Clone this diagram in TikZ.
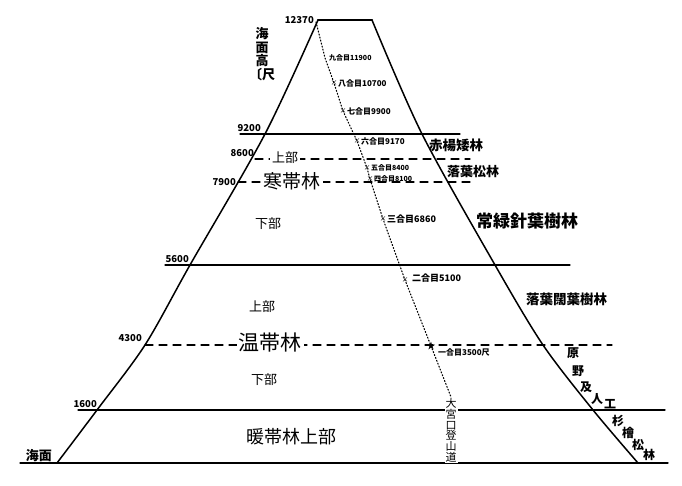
\documentclass[tikz,border=0pt]{standalone}
\usepackage{fontspec}
\setmainfont{Noto Sans CJK JP}
\usetikzlibrary{positioning}

\begin{document}
\begin{tikzpicture}[x=1pt, y=-1pt, line cap=round]
  \useasboundingbox (0,0) rectangle (682,486);
  \tikzset{
    slope/.style={line width=1.5pt},
    zoneline/.style={line width=1.3pt},
    subline/.style={line width=1.1pt, dash pattern=on 8pt off 6pt},
    alt/.style={font=\fontsize{9.5}{9.5}\selectfont\bfseries, anchor=south east, inner sep=1pt},
    zonename/.style={font=\fontsize{19}{19}\selectfont, fill=white, inner sep=2pt},
    partname/.style={font=\fontsize{13}{13}\selectfont, fill=white, inner sep=2pt},
    forest/.style={font=\fontsize{13.5}{13.5}\selectfont\bfseries, anchor=west, inner sep=1pt},
    station/.style={font=\fontsize{8}{8}\selectfont\bfseries, anchor=west, inner sep=1pt},
    stmark/.style={font=\fontsize{7}{7}\selectfont, inner sep=0pt},
  }

  % Ladera del monte
  \draw[slope] plot[smooth] coordinates {(57,463) (97,410) (145,345) (190,265) (265,134) (318,20)};
  \draw[slope] plot[smooth] coordinates {(372,20) (422,134) (495,265) (543,345) (593,410) (638,463)};
  \draw[line width=2.4pt] (318,20) -- (372,20);

  % Cotas (l\'ineas horizontales)
  \draw[zoneline] (240,134) -- (460,134);
  \draw[subline]  (255,159) -- (470,159);
  \draw[subline]  (238,182) -- (470,182);
  \draw[zoneline] (165,265) -- (570,265);
  \draw[subline]  (145,345) -- (612,345);
  \draw[zoneline] (78,410)  -- (665,410);
  \draw[zoneline] (20,463)  -- (668,463);

  % Alturas
  \node[alt] (h12370) at (315,25) {12370};
  \node[alt] (h9200)  at (262,133) {9200};
  \node[alt] (h8600)  at (255,158) {8600};
  \node[alt, anchor=east] (h7900) at (237,182) {7900};
  \node[alt] (h5600)  at (190,264) {5600};
  \node[alt] (h4300)  at (143,343) {4300};
  \node[alt] (h1600)  at (98,409)  {1600};
  \node[alt, font=\fontsize{13}{13}\selectfont\bfseries] (hsea) at (53,463) {海面};
  \node[font=\fontsize{13}{13.5}\selectfont\bfseries, align=center, inner sep=0pt] (yaxis) at (262,54)
    {海\\面\\高\\〔尺};

  % Zonas
  \node[partname] (cold_up)  at (285,158) {上部};
  \node[zonename] (cold)     at (292,181) {寒帯林};
  \node[partname] (cold_lo)  at (268,224) {下部};
  \node[partname] (temp_up)  at (262,307) {上部};
  \node[zonename, font=\fontsize{21}{21}\selectfont] (temp) at (270,343) {温帯林};
  \node[partname] (temp_lo)  at (264,380) {下部};
  \node[font=\fontsize{18}{18}\selectfont] (warm) at (291,437) {暖帯林上部};

  % Tipos de bosque
  \node[forest] (alder)   at (428,145) {赤楊矮林};
  \node[forest, font=\fontsize{13}{13}\selectfont\bfseries] (larch) at (446,172) {落葉松林};
  \node[forest, font=\fontsize{17}{17}\selectfont\bfseries] (conifer) at (475,221) {常緑針葉樹林};
  \node[forest] (broad)   at (525,299) {落葉闊葉樹林};
  \foreach \c/\x/\y in {原/573/353, 野/578/371, 及/586/387, 人/597/399, 工/610/404,
                        杉/618/421, 檜/628/433, 松/638/445, 林/649/455}{
    \node[font=\fontsize{12}{12}\selectfont\bfseries, inner sep=0pt] at (\x,\y) {\c};
  }

  % Sendero de Omiya
  \coordinate (top) at (316,22);
  \foreach \n/\x/\y in {s9/325/58, s8/334/83, s7/343/111, s6/357/141, s5/367/168,
                        s4/370/179, s3/383/219, s2/405/280, s1/431/346}{
    \coordinate (\n) at (\x,\y);
  }
  \coordinate (foot) at (451,397);
  \draw[dotted, line width=1.1pt] (top) -- (s9) -- (s8) -- (s7) -- (s6) -- (s5) -- (s4)
    -- (s3) -- (s2) -- (s1) -- (foot);
  \foreach \n in {s8,s7,s6,s5,s4,s3,s2}{
    \node[stmark] at (\n) {×};
  }
  \node[stmark, font=\fontsize{9}{9}\selectfont] at (s1) {★};
  \node[station, font=\fontsize{7}{7}\selectfont\bfseries] (l9) at ([xshift=3pt]s9) {九合目11900};
  \node[station] (l8) at ([xshift=3pt]s8) {八合目10700};
  \node[station] (l7) at ([xshift=3pt]s7) {七合目9900};
  \node[station] (l6) at ([xshift=3pt]s6) {六合目9170};
  \node[station, font=\fontsize{7}{7}\selectfont\bfseries] (l5) at ([xshift=3pt]s5) {五合目8400};
  \node[station, font=\fontsize{7}{7}\selectfont\bfseries] (l4) at ([xshift=3pt]s4) {四合目8100};
  \node[station, font=\fontsize{9}{9}\selectfont\bfseries] (l3) at ([xshift=3pt]s3) {三合目6860};
  \node[station, font=\fontsize{9}{9}\selectfont\bfseries] (l2) at ([xshift=6pt,yshift=2pt]s2) {二合目5100};
  \node[station] (l1) at ([xshift=6pt,yshift=-6pt]s1) {一合目3500尺};
  \node[font=\fontsize{11}{10.8}\selectfont, fill=white, align=center, inner sep=1pt, below=0pt of foot]
    (trail) {大\\宮\\口\\登\\山\\道};
\end{tikzpicture}
\end{document}
